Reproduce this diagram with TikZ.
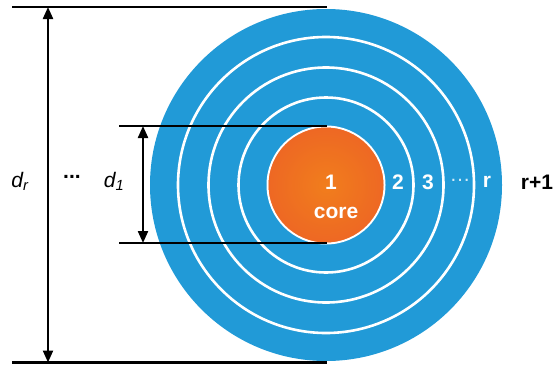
\documentclass[tikz,border=0pt]{standalone}
\usepackage{fontspec}
\setmainfont{Liberation Sans}
\usetikzlibrary{arrows.meta}
\definecolor{ringblue}{HTML}{219AD7}
\definecolor{coreorange}{HTML}{EE6824}
\tikzset{
  dimline/.style={line width=2.2pt, black},
  dimarrow/.style={line width=2.2pt, black, {Triangle[length=12pt,width=10pt]}-{Triangle[length=12pt,width=10pt]}},
  ringline/.style={white, line width=2.6pt},
  lbl/.style={inner sep=0pt, font=\fontsize{21}{23}\selectfont\itshape},
  inlbl/.style={inner sep=0pt, text=white, font=\fontsize{21}{23}\selectfont\bfseries},
}
\begin{document}
\begin{tikzpicture}[x=1pt,y=-1pt]
\useasboundingbox (0,0) rectangle (553,364);
\coordinate (c) at (326,185);
% disks
\fill[ringblue] (c) circle[radius=176];
\draw[ringline] (c) circle[radius=148];
\draw[ringline] (c) circle[radius=117.5];
\draw[ringline] (c) circle[radius=87.5];
\shade[inner color=coreorange!80!orange!70!yellow, outer color=coreorange, draw=white, line width=2pt] (c) circle[radius=58.5];
\fill[coreorange, opacity=0.55] (c) circle[radius=57.5];
% dimension lines
\coordinate (tl) at (12,7);
\coordinate (tr) at (327,7);
\coordinate (bl) at (12,362.5);
\coordinate (br) at (327,362.5);
\coordinate (ml) at (119,126);
\coordinate (mr) at (327,126);
\coordinate (nl) at (119,243);
\coordinate (nr) at (327,243);
\coordinate (da) at (48,7);
\coordinate (db) at (48,362.5);
\coordinate (ea) at (143,126);
\coordinate (eb) at (143,243);
\draw[dimline] (tl) -- (tr);
\draw[dimline] (bl) -- (br);
\draw[dimline] (ml) -- (mr);
\draw[dimline] (nl) -- (nr);
\draw[dimarrow] (da) -- (db);
\draw[dimarrow] (ea) -- (eb);
% labels
\node[lbl] (ldr) at (20,181) {d\textsubscript{r}};
\node[inner sep=0pt, font=\fontsize{21}{23}\selectfont\bfseries] (ldots) at (72,177) {...};
\node[lbl] (ld1) at (114,181) {d\textsubscript{1}};
\node[inlbl] (one) at (331,182) {1};
\node[inlbl] (core) at (336,213) {core};
\node[inlbl] (two) at (398,182) {2};
\node[inlbl] (three) at (428,182) {3};
\node[inner sep=0pt, text=white!80!ringblue, font=\fontsize{21}{23}\selectfont] (rdots) at (460,180) {\dots};
\node[inlbl] (rr) at (487,182) {r};
\node[inner sep=0pt, font=\fontsize{21}{23}\selectfont\bfseries] (rp1) at (537,182) {r+1};
\end{tikzpicture}
\end{document}
